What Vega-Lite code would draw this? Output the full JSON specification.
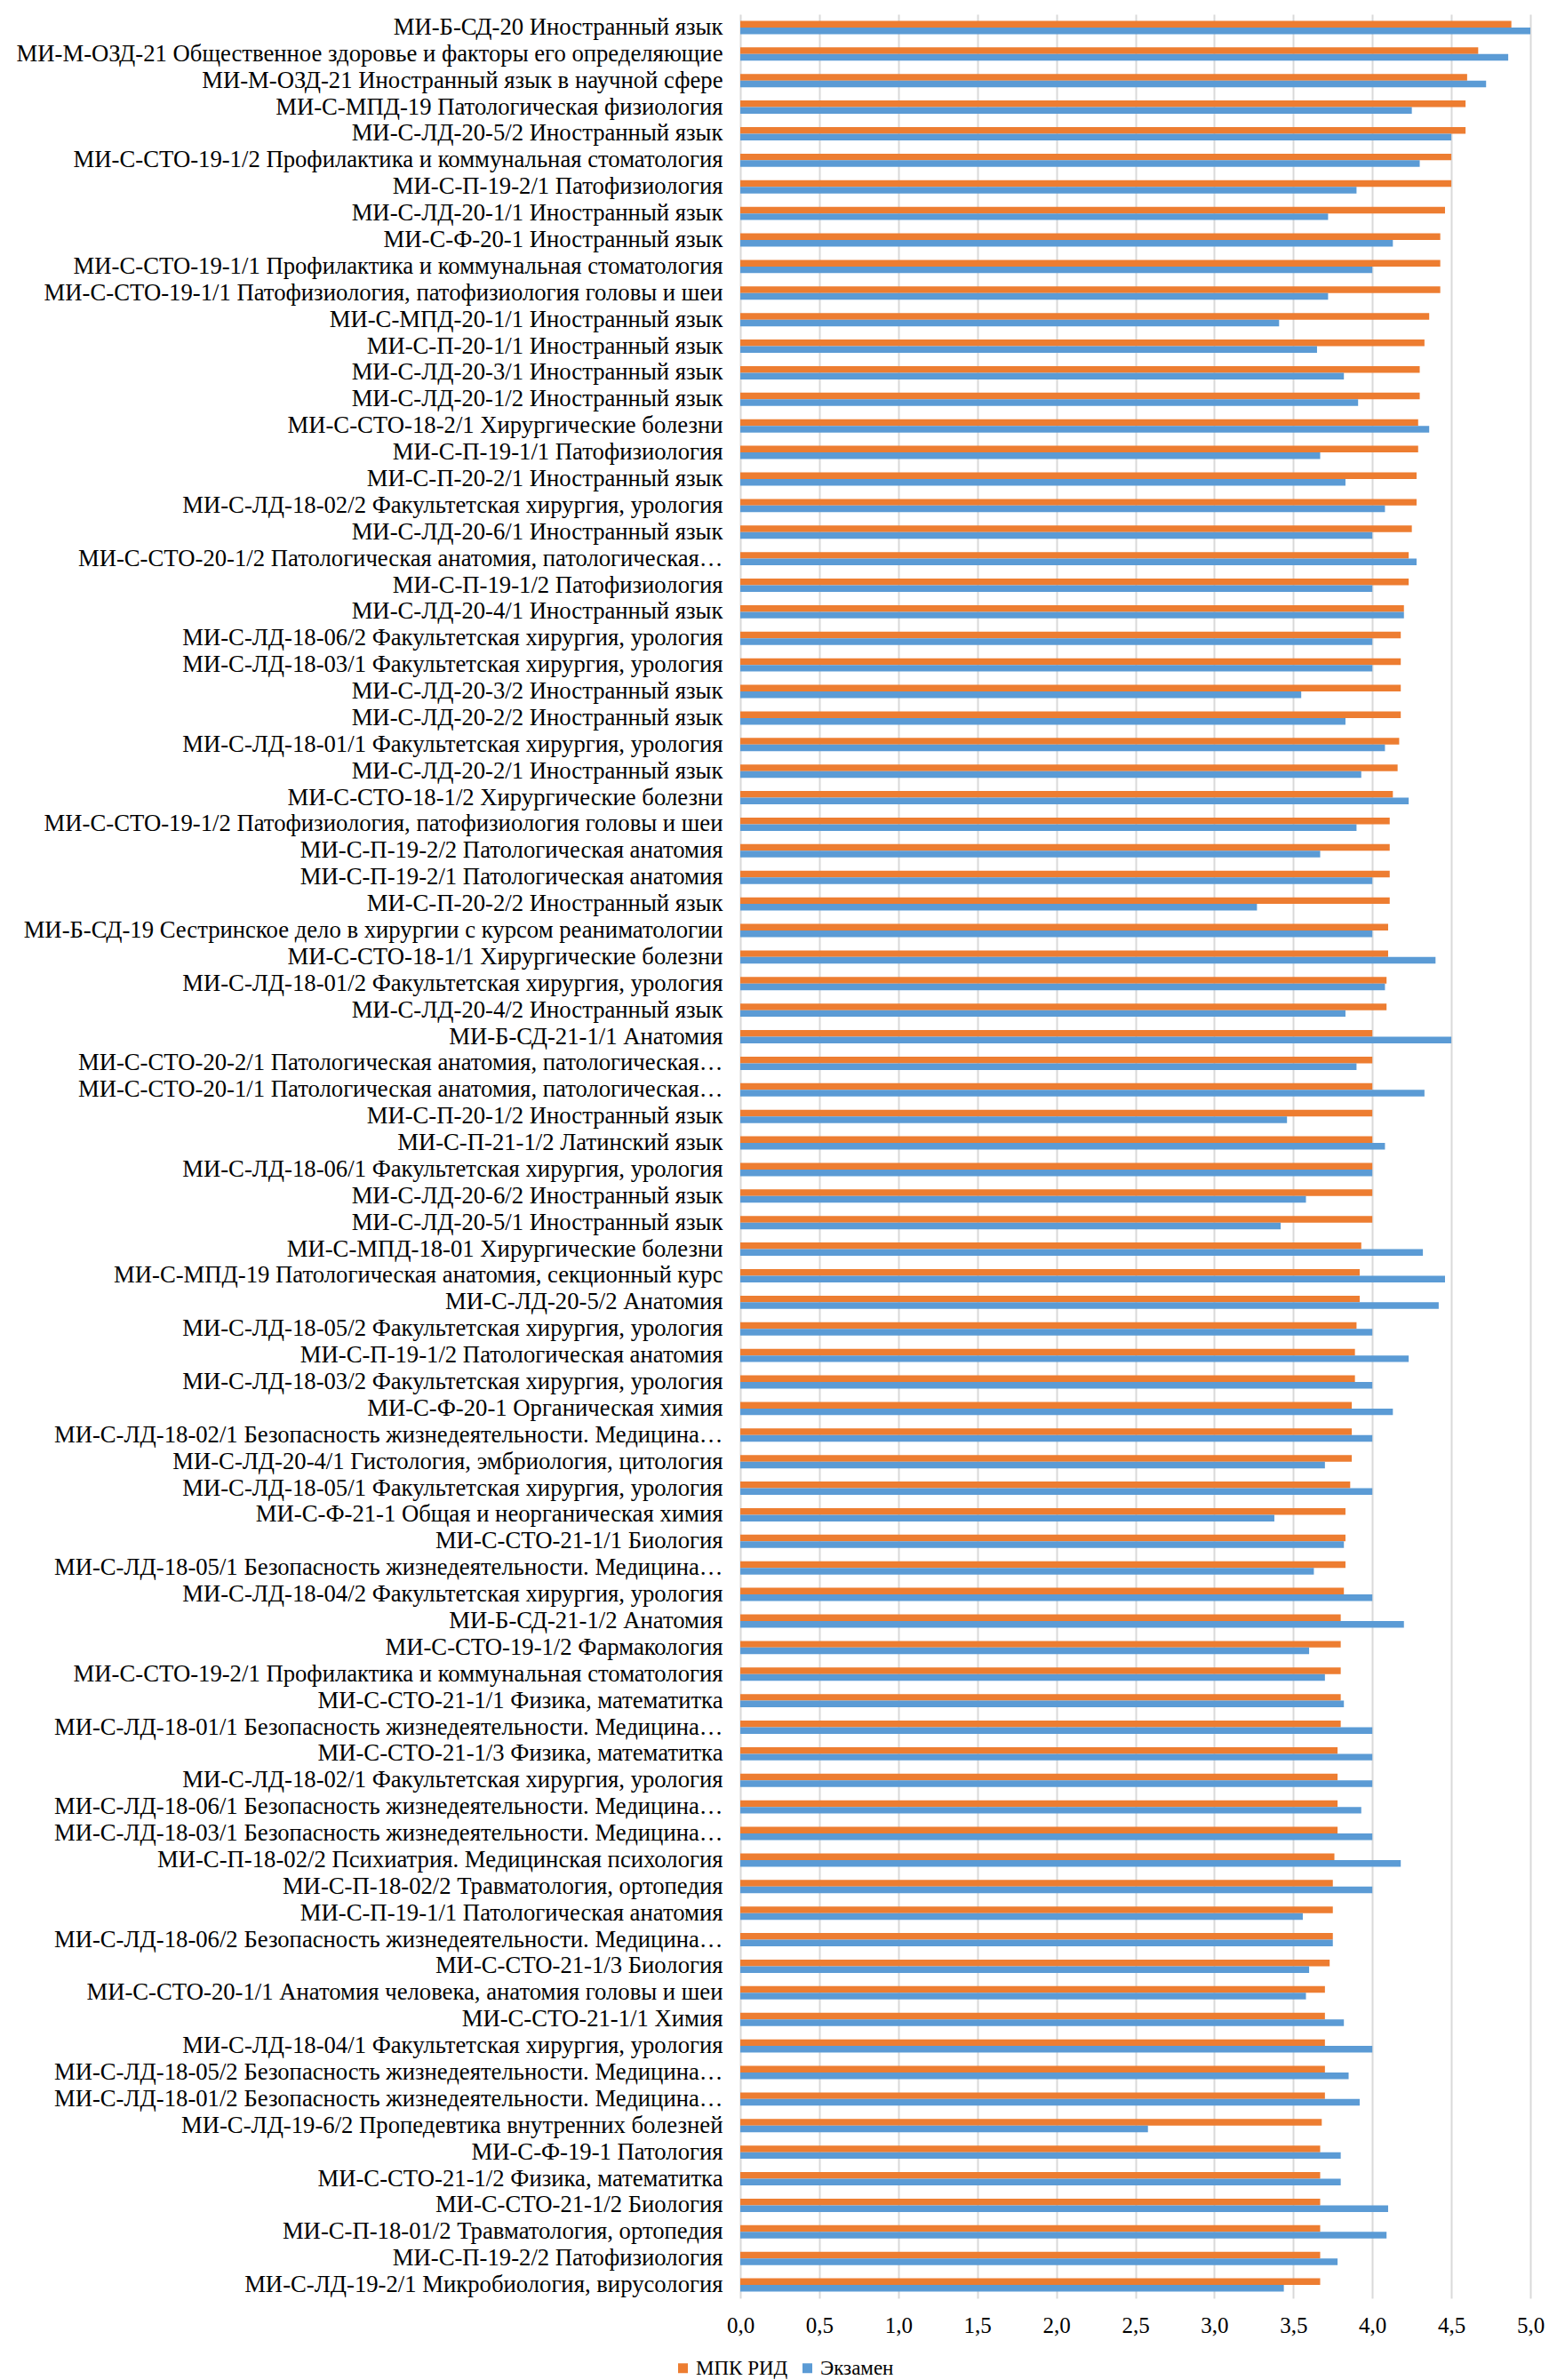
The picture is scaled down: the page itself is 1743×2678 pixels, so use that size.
{
"$schema": "https://vega.github.io/schema/vega-lite/v6.json",
"width": 889, "height": 2570,
"autosize": {"type": "none"},
"padding": {"left": 833, "top": 16, "right": 21, "bottom": 92},
"background": "white",
"config": {"view": {"stroke": null}, "font": "Liberation Serif"},
"datasets": {"rows": [
{"group":"МИ-Б-СД-20 Иностранный язык","series":"МПК РИД","value":4.88},{"group":"МИ-Б-СД-20 Иностранный язык","series":"Экзамен","value":5.0},
{"group":"МИ-М-ОЗД-21 Общественное здоровье и факторы его определяющие","series":"МПК РИД","value":4.67},{"group":"МИ-М-ОЗД-21 Общественное здоровье и факторы его определяющие","series":"Экзамен","value":4.86},
{"group":"МИ-М-ОЗД-21 Иностранный язык в научной сфере","series":"МПК РИД","value":4.60},{"group":"МИ-М-ОЗД-21 Иностранный язык в научной сфере","series":"Экзамен","value":4.72},
{"group":"МИ-С-МПД-19 Патологическая физиология","series":"МПК РИД","value":4.59},{"group":"МИ-С-МПД-19 Патологическая физиология","series":"Экзамен","value":4.25},
{"group":"МИ-С-ЛД-20-5/2 Иностранный язык","series":"МПК РИД","value":4.59},{"group":"МИ-С-ЛД-20-5/2 Иностранный язык","series":"Экзамен","value":4.50},
{"group":"МИ-С-СТО-19-1/2 Профилактика и коммунальная стоматология","series":"МПК РИД","value":4.50},{"group":"МИ-С-СТО-19-1/2 Профилактика и коммунальная стоматология","series":"Экзамен","value":4.30},
{"group":"МИ-С-П-19-2/1 Патофизиология","series":"МПК РИД","value":4.50},{"group":"МИ-С-П-19-2/1 Патофизиология","series":"Экзамен","value":3.90},
{"group":"МИ-С-ЛД-20-1/1 Иностранный язык","series":"МПК РИД","value":4.46},{"group":"МИ-С-ЛД-20-1/1 Иностранный язык","series":"Экзамен","value":3.72},
{"group":"МИ-С-Ф-20-1 Иностранный язык","series":"МПК РИД","value":4.43},{"group":"МИ-С-Ф-20-1 Иностранный язык","series":"Экзамен","value":4.13},
{"group":"МИ-С-СТО-19-1/1 Профилактика и коммунальная стоматология","series":"МПК РИД","value":4.43},{"group":"МИ-С-СТО-19-1/1 Профилактика и коммунальная стоматология","series":"Экзамен","value":4.00},
{"group":"МИ-С-СТО-19-1/1 Патофизиология, патофизиология головы и шеи","series":"МПК РИД","value":4.43},{"group":"МИ-С-СТО-19-1/1 Патофизиология, патофизиология головы и шеи","series":"Экзамен","value":3.72},
{"group":"МИ-С-МПД-20-1/1 Иностранный язык","series":"МПК РИД","value":4.36},{"group":"МИ-С-МПД-20-1/1 Иностранный язык","series":"Экзамен","value":3.41},
{"group":"МИ-С-П-20-1/1 Иностранный язык","series":"МПК РИД","value":4.33},{"group":"МИ-С-П-20-1/1 Иностранный язык","series":"Экзамен","value":3.65},
{"group":"МИ-С-ЛД-20-3/1 Иностранный язык","series":"МПК РИД","value":4.30},{"group":"МИ-С-ЛД-20-3/1 Иностранный язык","series":"Экзамен","value":3.82},
{"group":"МИ-С-ЛД-20-1/2 Иностранный язык","series":"МПК РИД","value":4.30},{"group":"МИ-С-ЛД-20-1/2 Иностранный язык","series":"Экзамен","value":3.91},
{"group":"МИ-С-СТО-18-2/1 Хирургические болезни","series":"МПК РИД","value":4.29},{"group":"МИ-С-СТО-18-2/1 Хирургические болезни","series":"Экзамен","value":4.36},
{"group":"МИ-С-П-19-1/1 Патофизиология","series":"МПК РИД","value":4.29},{"group":"МИ-С-П-19-1/1 Патофизиология","series":"Экзамен","value":3.67},
{"group":"МИ-С-П-20-2/1 Иностранный язык","series":"МПК РИД","value":4.28},{"group":"МИ-С-П-20-2/1 Иностранный язык","series":"Экзамен","value":3.83},
{"group":"МИ-С-ЛД-18-02/2 Факультетская хирургия, урология","series":"МПК РИД","value":4.28},{"group":"МИ-С-ЛД-18-02/2 Факультетская хирургия, урология","series":"Экзамен","value":4.08},
{"group":"МИ-С-ЛД-20-6/1 Иностранный язык","series":"МПК РИД","value":4.25},{"group":"МИ-С-ЛД-20-6/1 Иностранный язык","series":"Экзамен","value":4.00},
{"group":"МИ-С-СТО-20-1/2 Патологическая анатомия, патологическая…","series":"МПК РИД","value":4.23},{"group":"МИ-С-СТО-20-1/2 Патологическая анатомия, патологическая…","series":"Экзамен","value":4.28},
{"group":"МИ-С-П-19-1/2 Патофизиология","series":"МПК РИД","value":4.23},{"group":"МИ-С-П-19-1/2 Патофизиология","series":"Экзамен","value":4.00},
{"group":"МИ-С-ЛД-20-4/1 Иностранный язык","series":"МПК РИД","value":4.20},{"group":"МИ-С-ЛД-20-4/1 Иностранный язык","series":"Экзамен","value":4.20},
{"group":"МИ-С-ЛД-18-06/2 Факультетская хирургия, урология","series":"МПК РИД","value":4.18},{"group":"МИ-С-ЛД-18-06/2 Факультетская хирургия, урология","series":"Экзамен","value":4.00},
{"group":"МИ-С-ЛД-18-03/1 Факультетская хирургия, урология","series":"МПК РИД","value":4.18},{"group":"МИ-С-ЛД-18-03/1 Факультетская хирургия, урология","series":"Экзамен","value":4.00},
{"group":"МИ-С-ЛД-20-3/2 Иностранный язык","series":"МПК РИД","value":4.18},{"group":"МИ-С-ЛД-20-3/2 Иностранный язык","series":"Экзамен","value":3.55},
{"group":"МИ-С-ЛД-20-2/2 Иностранный язык","series":"МПК РИД","value":4.18},{"group":"МИ-С-ЛД-20-2/2 Иностранный язык","series":"Экзамен","value":3.83},
{"group":"МИ-С-ЛД-18-01/1 Факультетская хирургия, урология","series":"МПК РИД","value":4.17},{"group":"МИ-С-ЛД-18-01/1 Факультетская хирургия, урология","series":"Экзамен","value":4.08},
{"group":"МИ-С-ЛД-20-2/1 Иностранный язык","series":"МПК РИД","value":4.16},{"group":"МИ-С-ЛД-20-2/1 Иностранный язык","series":"Экзамен","value":3.93},
{"group":"МИ-С-СТО-18-1/2 Хирургические болезни","series":"МПК РИД","value":4.13},{"group":"МИ-С-СТО-18-1/2 Хирургические болезни","series":"Экзамен","value":4.23},
{"group":"МИ-С-СТО-19-1/2 Патофизиология, патофизиология головы и шеи","series":"МПК РИД","value":4.11},{"group":"МИ-С-СТО-19-1/2 Патофизиология, патофизиология головы и шеи","series":"Экзамен","value":3.90},
{"group":"МИ-С-П-19-2/2 Патологическая анатомия","series":"МПК РИД","value":4.11},{"group":"МИ-С-П-19-2/2 Патологическая анатомия","series":"Экзамен","value":3.67},
{"group":"МИ-С-П-19-2/1 Патологическая анатомия","series":"МПК РИД","value":4.11},{"group":"МИ-С-П-19-2/1 Патологическая анатомия","series":"Экзамен","value":4.00},
{"group":"МИ-С-П-20-2/2 Иностранный язык","series":"МПК РИД","value":4.11},{"group":"МИ-С-П-20-2/2 Иностранный язык","series":"Экзамен","value":3.27},
{"group":"МИ-Б-СД-19 Сестринское дело в хирургии с курсом реаниматологии","series":"МПК РИД","value":4.10},{"group":"МИ-Б-СД-19 Сестринское дело в хирургии с курсом реаниматологии","series":"Экзамен","value":4.00},
{"group":"МИ-С-СТО-18-1/1 Хирургические болезни","series":"МПК РИД","value":4.10},{"group":"МИ-С-СТО-18-1/1 Хирургические болезни","series":"Экзамен","value":4.40},
{"group":"МИ-С-ЛД-18-01/2 Факультетская хирургия, урология","series":"МПК РИД","value":4.09},{"group":"МИ-С-ЛД-18-01/2 Факультетская хирургия, урология","series":"Экзамен","value":4.08},
{"group":"МИ-С-ЛД-20-4/2 Иностранный язык","series":"МПК РИД","value":4.09},{"group":"МИ-С-ЛД-20-4/2 Иностранный язык","series":"Экзамен","value":3.83},
{"group":"МИ-Б-СД-21-1/1 Анатомия","series":"МПК РИД","value":4.00},{"group":"МИ-Б-СД-21-1/1 Анатомия","series":"Экзамен","value":4.50},
{"group":"МИ-С-СТО-20-2/1 Патологическая анатомия, патологическая…","series":"МПК РИД","value":4.00},{"group":"МИ-С-СТО-20-2/1 Патологическая анатомия, патологическая…","series":"Экзамен","value":3.90},
{"group":"МИ-С-СТО-20-1/1 Патологическая анатомия, патологическая…","series":"МПК РИД","value":4.00},{"group":"МИ-С-СТО-20-1/1 Патологическая анатомия, патологическая…","series":"Экзамен","value":4.33},
{"group":"МИ-С-П-20-1/2 Иностранный язык","series":"МПК РИД","value":4.00},{"group":"МИ-С-П-20-1/2 Иностранный язык","series":"Экзамен","value":3.46},
{"group":"МИ-С-П-21-1/2 Латинский язык","series":"МПК РИД","value":4.00},{"group":"МИ-С-П-21-1/2 Латинский язык","series":"Экзамен","value":4.08},
{"group":"МИ-С-ЛД-18-06/1 Факультетская хирургия, урология","series":"МПК РИД","value":4.00},{"group":"МИ-С-ЛД-18-06/1 Факультетская хирургия, урология","series":"Экзамен","value":4.00},
{"group":"МИ-С-ЛД-20-6/2 Иностранный язык","series":"МПК РИД","value":4.00},{"group":"МИ-С-ЛД-20-6/2 Иностранный язык","series":"Экзамен","value":3.58},
{"group":"МИ-С-ЛД-20-5/1 Иностранный язык","series":"МПК РИД","value":4.00},{"group":"МИ-С-ЛД-20-5/1 Иностранный язык","series":"Экзамен","value":3.42},
{"group":"МИ-С-МПД-18-01 Хирургические болезни","series":"МПК РИД","value":3.93},{"group":"МИ-С-МПД-18-01 Хирургические болезни","series":"Экзамен","value":4.32},
{"group":"МИ-С-МПД-19 Патологическая анатомия, секционный курс","series":"МПК РИД","value":3.92},{"group":"МИ-С-МПД-19 Патологическая анатомия, секционный курс","series":"Экзамен","value":4.46},
{"group":"МИ-С-ЛД-20-5/2 Анатомия","series":"МПК РИД","value":3.92},{"group":"МИ-С-ЛД-20-5/2 Анатомия","series":"Экзамен","value":4.42},
{"group":"МИ-С-ЛД-18-05/2 Факультетская хирургия, урология","series":"МПК РИД","value":3.90},{"group":"МИ-С-ЛД-18-05/2 Факультетская хирургия, урология","series":"Экзамен","value":4.00},
{"group":"МИ-С-П-19-1/2 Патологическая анатомия","series":"МПК РИД","value":3.89},{"group":"МИ-С-П-19-1/2 Патологическая анатомия","series":"Экзамен","value":4.23},
{"group":"МИ-С-ЛД-18-03/2 Факультетская хирургия, урология","series":"МПК РИД","value":3.89},{"group":"МИ-С-ЛД-18-03/2 Факультетская хирургия, урология","series":"Экзамен","value":4.00},
{"group":"МИ-С-Ф-20-1 Органическая химия","series":"МПК РИД","value":3.87},{"group":"МИ-С-Ф-20-1 Органическая химия","series":"Экзамен","value":4.13},
{"group":"МИ-С-ЛД-18-02/1 Безопасность жизнедеятельности. Медицина…","series":"МПК РИД","value":3.87},{"group":"МИ-С-ЛД-18-02/1 Безопасность жизнедеятельности. Медицина…","series":"Экзамен","value":4.00},
{"group":"МИ-С-ЛД-20-4/1 Гистология, эмбриология, цитология","series":"МПК РИД","value":3.87},{"group":"МИ-С-ЛД-20-4/1 Гистология, эмбриология, цитология","series":"Экзамен","value":3.70},
{"group":"МИ-С-ЛД-18-05/1 Факультетская хирургия, урология","series":"МПК РИД","value":3.86},{"group":"МИ-С-ЛД-18-05/1 Факультетская хирургия, урология","series":"Экзамен","value":4.00},
{"group":"МИ-С-Ф-21-1 Общая и неорганическая химия","series":"МПК РИД","value":3.83},{"group":"МИ-С-Ф-21-1 Общая и неорганическая химия","series":"Экзамен","value":3.38},
{"group":"МИ-С-СТО-21-1/1 Биология","series":"МПК РИД","value":3.83},{"group":"МИ-С-СТО-21-1/1 Биология","series":"Экзамен","value":3.82},
{"group":"МИ-С-ЛД-18-05/1 Безопасность жизнедеятельности. Медицина…","series":"МПК РИД","value":3.83},{"group":"МИ-С-ЛД-18-05/1 Безопасность жизнедеятельности. Медицина…","series":"Экзамен","value":3.63},
{"group":"МИ-С-ЛД-18-04/2 Факультетская хирургия, урология","series":"МПК РИД","value":3.82},{"group":"МИ-С-ЛД-18-04/2 Факультетская хирургия, урология","series":"Экзамен","value":4.00},
{"group":"МИ-Б-СД-21-1/2 Анатомия","series":"МПК РИД","value":3.80},{"group":"МИ-Б-СД-21-1/2 Анатомия","series":"Экзамен","value":4.20},
{"group":"МИ-С-СТО-19-1/2 Фармакология","series":"МПК РИД","value":3.80},{"group":"МИ-С-СТО-19-1/2 Фармакология","series":"Экзамен","value":3.60},
{"group":"МИ-С-СТО-19-2/1 Профилактика и коммунальная стоматология","series":"МПК РИД","value":3.80},{"group":"МИ-С-СТО-19-2/1 Профилактика и коммунальная стоматология","series":"Экзамен","value":3.70},
{"group":"МИ-С-СТО-21-1/1 Физика, математитка","series":"МПК РИД","value":3.80},{"group":"МИ-С-СТО-21-1/1 Физика, математитка","series":"Экзамен","value":3.82},
{"group":"МИ-С-ЛД-18-01/1 Безопасность жизнедеятельности. Медицина…","series":"МПК РИД","value":3.80},{"group":"МИ-С-ЛД-18-01/1 Безопасность жизнедеятельности. Медицина…","series":"Экзамен","value":4.00},
{"group":"МИ-С-СТО-21-1/3 Физика, математитка","series":"МПК РИД","value":3.78},{"group":"МИ-С-СТО-21-1/3 Физика, математитка","series":"Экзамен","value":4.00},
{"group":"МИ-С-ЛД-18-02/1 Факультетская хирургия, урология","series":"МПК РИД","value":3.78},{"group":"МИ-С-ЛД-18-02/1 Факультетская хирургия, урология","series":"Экзамен","value":4.00},
{"group":"МИ-С-ЛД-18-06/1 Безопасность жизнедеятельности. Медицина…","series":"МПК РИД","value":3.78},{"group":"МИ-С-ЛД-18-06/1 Безопасность жизнедеятельности. Медицина…","series":"Экзамен","value":3.93},
{"group":"МИ-С-ЛД-18-03/1 Безопасность жизнедеятельности. Медицина…","series":"МПК РИД","value":3.78},{"group":"МИ-С-ЛД-18-03/1 Безопасность жизнедеятельности. Медицина…","series":"Экзамен","value":4.00},
{"group":"МИ-С-П-18-02/2 Психиатрия. Медицинская психология","series":"МПК РИД","value":3.76},{"group":"МИ-С-П-18-02/2 Психиатрия. Медицинская психология","series":"Экзамен","value":4.18},
{"group":"МИ-С-П-18-02/2 Травматология, ортопедия","series":"МПК РИД","value":3.75},{"group":"МИ-С-П-18-02/2 Травматология, ортопедия","series":"Экзамен","value":4.00},
{"group":"МИ-С-П-19-1/1 Патологическая анатомия","series":"МПК РИД","value":3.75},{"group":"МИ-С-П-19-1/1 Патологическая анатомия","series":"Экзамен","value":3.56},
{"group":"МИ-С-ЛД-18-06/2 Безопасность жизнедеятельности. Медицина…","series":"МПК РИД","value":3.75},{"group":"МИ-С-ЛД-18-06/2 Безопасность жизнедеятельности. Медицина…","series":"Экзамен","value":3.75},
{"group":"МИ-С-СТО-21-1/3 Биология","series":"МПК РИД","value":3.73},{"group":"МИ-С-СТО-21-1/3 Биология","series":"Экзамен","value":3.60},
{"group":"МИ-С-СТО-20-1/1 Анатомия человека, анатомия головы и шеи","series":"МПК РИД","value":3.70},{"group":"МИ-С-СТО-20-1/1 Анатомия человека, анатомия головы и шеи","series":"Экзамен","value":3.58},
{"group":"МИ-С-СТО-21-1/1 Химия","series":"МПК РИД","value":3.70},{"group":"МИ-С-СТО-21-1/1 Химия","series":"Экзамен","value":3.82},
{"group":"МИ-С-ЛД-18-04/1 Факультетская хирургия, урология","series":"МПК РИД","value":3.70},{"group":"МИ-С-ЛД-18-04/1 Факультетская хирургия, урология","series":"Экзамен","value":4.00},
{"group":"МИ-С-ЛД-18-05/2 Безопасность жизнедеятельности. Медицина…","series":"МПК РИД","value":3.70},{"group":"МИ-С-ЛД-18-05/2 Безопасность жизнедеятельности. Медицина…","series":"Экзамен","value":3.85},
{"group":"МИ-С-ЛД-18-01/2 Безопасность жизнедеятельности. Медицина…","series":"МПК РИД","value":3.70},{"group":"МИ-С-ЛД-18-01/2 Безопасность жизнедеятельности. Медицина…","series":"Экзамен","value":3.92},
{"group":"МИ-С-ЛД-19-6/2 Пропедевтика внутренних болезней","series":"МПК РИД","value":3.68},{"group":"МИ-С-ЛД-19-6/2 Пропедевтика внутренних болезней","series":"Экзамен","value":2.58},
{"group":"МИ-С-Ф-19-1 Патология","series":"МПК РИД","value":3.67},{"group":"МИ-С-Ф-19-1 Патология","series":"Экзамен","value":3.80},
{"group":"МИ-С-СТО-21-1/2 Физика, математитка","series":"МПК РИД","value":3.67},{"group":"МИ-С-СТО-21-1/2 Физика, математитка","series":"Экзамен","value":3.80},
{"group":"МИ-С-СТО-21-1/2 Биология","series":"МПК РИД","value":3.67},{"group":"МИ-С-СТО-21-1/2 Биология","series":"Экзамен","value":4.10},
{"group":"МИ-С-П-18-01/2 Травматология, ортопедия","series":"МПК РИД","value":3.67},{"group":"МИ-С-П-18-01/2 Травматология, ортопедия","series":"Экзамен","value":4.09},
{"group":"МИ-С-П-19-2/2 Патофизиология","series":"МПК РИД","value":3.67},{"group":"МИ-С-П-19-2/2 Патофизиология","series":"Экзамен","value":3.78},
{"group":"МИ-С-ЛД-19-2/1 Микробиология,  вирусология","series":"МПК РИД","value":3.67},{"group":"МИ-С-ЛД-19-2/1 Микробиология,  вирусология","series":"Экзамен","value":3.44}
]},
"data": {"name": "rows"},
"mark": {"type": "bar"},
"encoding": {
  "y": {"field": "group", "type": "nominal", "sort": null,
    "scale": {"paddingInner": 0.5, "paddingOuter": 0.25},
    "axis": {"title": null, "domain": false, "ticks": false, "labelFontSize": 26.7, "labelFont": "Liberation Serif", "labelColor": "black", "labelLimit": 900, "labelPadding": 20}},
  "yOffset": {"field": "series", "type": "nominal", "sort": ["МПК РИД", "Экзамен"]},
  "x": {"field": "value", "type": "quantitative", "scale": {"domain": [0, 5], "nice": false},
    "axis": {"title": null, "values": [0, 0.5, 1, 1.5, 2, 2.5, 3, 3.5, 4, 4.5, 5],
      "labelExpr": "replace(format(datum.value, '.1f'), '.', ',')",
      "domain": false, "ticks": false, "gridColor": "#d9d9d9", "gridWidth": 2,
      "labelFontSize": 25, "labelFont": "Liberation Serif", "labelColor": "black", "labelPadding": 18, "labelFlush": false}},
  "color": {"field": "series", "type": "nominal",
    "scale": {"domain": ["МПК РИД", "Экзамен"], "range": ["#ED7D31", "#5B9BD5"]},
    "legend": {"title": null, "orient": "none", "direction": "horizontal", "legendX": -76, "legendY": 2637,
      "symbolType": "square", "symbolSize": 121, "symbolStrokeWidth": 0, "labelFontSize": 23, "labelFont": "Liberation Serif", "labelColor": "black", "columnPadding": 10, "labelOffset": 3}}
}
}
